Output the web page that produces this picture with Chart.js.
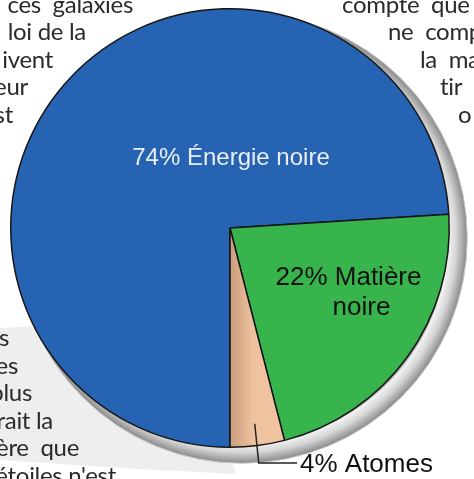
<!DOCTYPE html>
<html lang="fr">
<head>
<meta charset="utf-8">
<script src="https://cdn.jsdelivr.net/npm/chart.js@4/dist/chart.umd.min.js"></script>
<style>
  html, body { margin: 0; padding: 0; background: #fff; }
  #page { position: relative; width: 474px; height: 479px; overflow: hidden; }
  #paper { position: absolute; left: 0; top: 0; width: 474px; height: 479px; background: #eeeeee;
    clip-path: polygon(0 328px, 40px 326px, 90px 365px, 150px 412px, 232px 462px, 236px 474px, 120px 468px, 0 460px); }
  #pie { position: absolute; left: 0; top: 0; }
  .txt { position: absolute; font-family: Lato, "Open Sans", sans-serif; font-size: 24px; line-height: 24px;
    color: #2b2b2b; white-space: pre; letter-spacing: -0.3px; }
</style>
</head>
<body>
<div id="page">
  <div id="paper"></div>
  <canvas id="pie" width="474" height="479"></canvas>
</div>
<script>
// Composition de l'Univers
var categories = ['Énergie noire', 'Matière noire', 'Atomes'];
var percents = [74, 22, 4];
var sliceColors = ['#2663b2', '#38b44c', '#f0c3a0'];

// fragments of the surrounding article text
var leftColumn = ['ces  galaxies', 'loi de la', 'ivent', 'eur', 'st'];
var rightColumn = ['compte  que', 'ne  comp', 'la  ma', 'tir', 'o'];
var bottomLeft = ['s', 'es', 'plus', 'rait la', 'ère  que', 'étoiles n\'est'];

var page = document.getElementById('page');
function addText(str, baseline, side, x) {
    var el = document.createElement('div');
    el.className = 'txt';
    el.textContent = str;
    el.style.top = (baseline - 21) + 'px';
    if (side === 'right') el.style.right = (474 - x) + 'px';
    else el.style.left = x + 'px';
    page.appendChild(el);
}
var leftEnds = [133, 86, 53, 28, 13];
var rightStarts = [342, 388, 420, 440, 458];
var bottomEnds = [9, 18, 32, 53, 79, 116];
leftColumn.forEach(function(s, i) { addText(s, 12.5 + i * 27.5, 'right', leftEnds[i]); });
rightColumn.forEach(function(s, i) { addText(s, 12.5 + i * 27.5, 'left', rightStarts[i]); });
bottomLeft.forEach(function(s, i) { addText(s, 346 + i * 27.5, 'right', bottomEnds[i]); });

// grey 3D rim behind the pie
var rimPlugin = {
    id: 'rim',
    beforeDatasetsDraw: function(chart) {
        var arc = chart.getDatasetMeta(0).data[0];
        var ctx = chart.ctx;
        var R = arc.outerRadius;
        var sx = arc.x + 12, sy = arc.y + 10;
        ctx.save();
        var g = ctx.createRadialGradient(sx, sy, R - 16, sx, sy, R + 6);
        g.addColorStop(0, '#4a4a4a');
        g.addColorStop(0.14, '#f2f2f2');
        g.addColorStop(0.5, '#d6d6d6');
        g.addColorStop(0.9, '#999');
        g.addColorStop(1, '#8a8a8a');
        ctx.beginPath();
        ctx.arc(sx, sy, R + 6, 0, Math.PI * 2);
        ctx.fillStyle = g;
        ctx.fill();
        ctx.lineWidth = 1;
        ctx.strokeStyle = '#c8c8c8';
        ctx.stroke();
        ctx.restore();
    }
};

// slice labels
var labelPlugin = {
    id: 'sliceLabels',
    afterDatasetsDraw: function(chart) {
        var ctx = chart.ctx;
        var arcs = chart.getDatasetMeta(0).data;
        var cx = arcs[0].x, cy = arcs[0].y;
        ctx.save();
        ctx.textBaseline = 'alphabetic';

        ctx.font = '24px "Liberation Sans", Arial, sans-serif';
        ctx.fillStyle = '#e9eef7';
        ctx.textAlign = 'center';
        ctx.fillText(percents[0] + '% ' + categories[0], cx + 1, cy - 63);

        ctx.font = '26px "Liberation Sans", Arial, sans-serif';
        ctx.fillStyle = '#111';
        var words = categories[1].split(' ');
        ctx.fillText(percents[1] + '% ' + words[0], cx + 118.5, cy + 57);
        ctx.fillText(words[1], cx + 131.5, cy + 87);

        // leader line for the small slice
        var a = arcs[2];
        var mid = (a.startAngle + a.endAngle) / 2;
        var px = a.x + Math.cos(mid) * a.outerRadius * 0.9;
        var py = a.y + Math.sin(mid) * a.outerRadius * 0.9;
        ctx.beginPath();
        ctx.moveTo(px, py);
        ctx.lineTo(px + 4, cy + 235);
        ctx.lineTo(cx + 67, cy + 235);
        ctx.strokeStyle = '#222';
        ctx.lineWidth = 1.5;
        ctx.stroke();
        ctx.textAlign = 'left';
        ctx.fillText(percents[2] + '% ' + categories[2], cx + 70, cy + 244);
        ctx.restore();
    }
};

new Chart(document.getElementById('pie').getContext('2d'), {
    type: 'pie',
    data: {
        labels: categories,
        datasets: [{
            data: percents,
            backgroundColor: function(c) {
                // small slice is shaded darker toward its left edge
                var area = c.chart.chartArea;
                if (c.dataIndex !== 2 || !area || !isFinite(area.left)) return sliceColors[c.dataIndex];
                var x0 = (area.left + area.right) / 2;
                var g = c.chart.ctx.createLinearGradient(x0, 0, x0 + 24, 0);
                g.addColorStop(0, '#c99c7c');
                g.addColorStop(1, sliceColors[2]);
                return g;
            },
            borderColor: '#151515',
            borderWidth: 1.5
        }]
    },
    options: {
        responsive: false,
        animation: false,
        rotation: 180,
        layout: { padding: { left: 10, right: 24, top: 8, bottom: 31 } },
        plugins: {
            legend: { display: false },
            tooltip: { enabled: false }
        }
    },
    plugins: [rimPlugin, labelPlugin]
});
</script>
</body>
</html>
